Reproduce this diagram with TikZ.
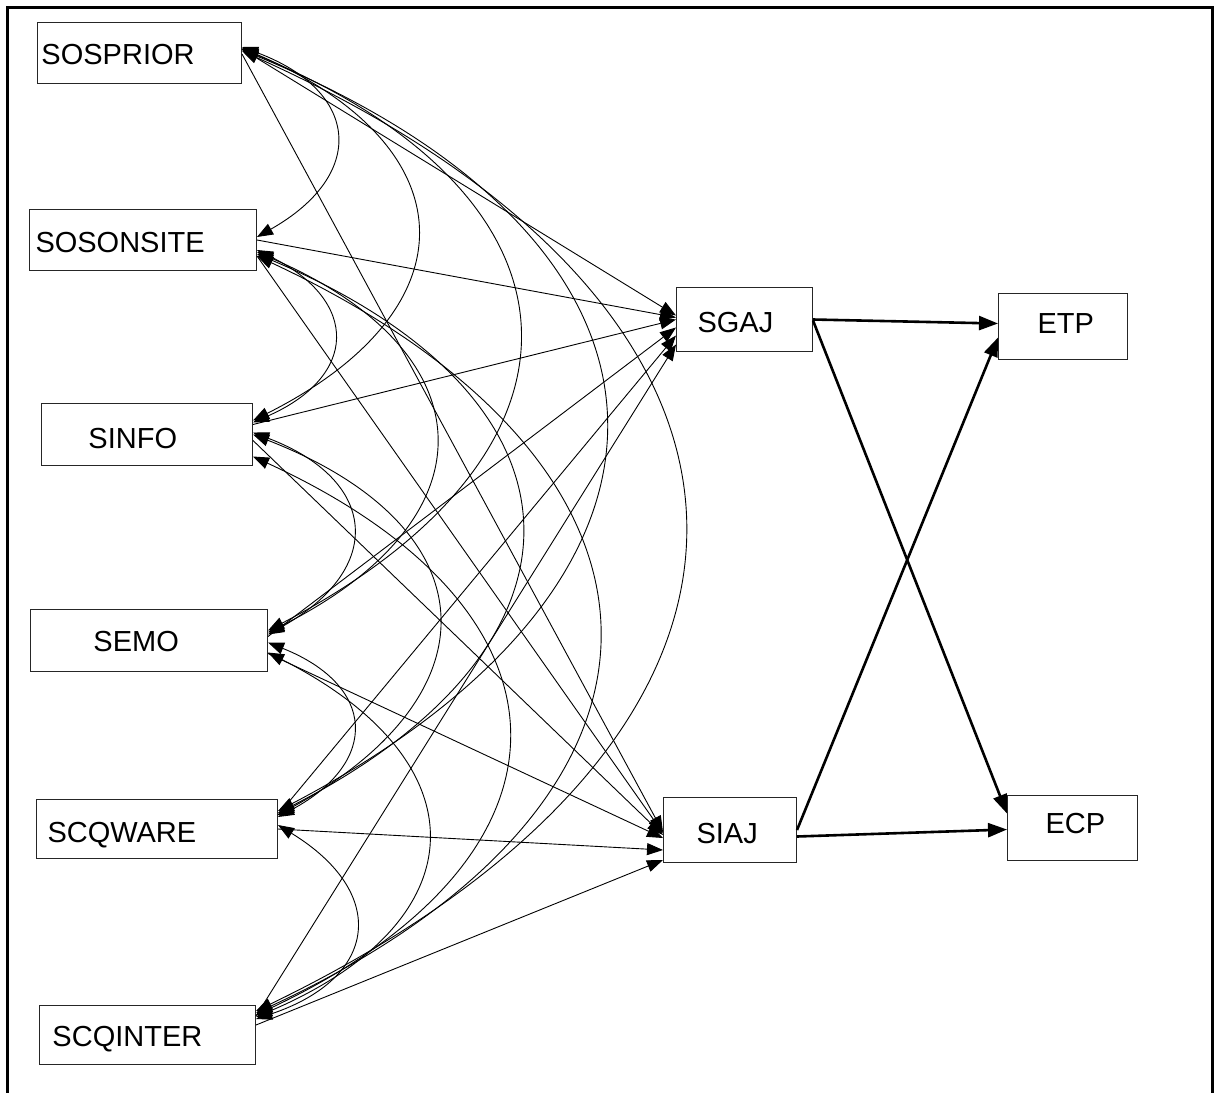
\documentclass[tikz,border=0pt]{standalone}
\usepackage{fontspec}
\setmainfont{Liberation Sans}
\usetikzlibrary{arrows.meta}
\begin{document}
\begin{tikzpicture}[x=1pt,y=-1pt,
  box/.style={draw=black!85, line width=1pt, inner sep=0pt, anchor=north west, align=left,
    text height=21pt, text depth=0pt, font=\fontsize{29}{34}\selectfont},
  pathline/.style={line width=0.9pt, -{Triangle[length=16pt,width=12pt]}},
  corr/.style={line width=0.9pt, {Triangle[length=16pt,width=12pt]}-{Triangle[length=16pt,width=12pt]},
    bend left=65, looseness=1.7},
  mainline/.style={line width=2.6pt, -{Triangle[length=19pt,width=14pt]}}]
\useasboundingbox (0,0) rectangle (1219,1093);
\draw[line width=3pt] (7.5,1100) -- (7.5,7.5) -- (1212,7.5) -- (1212,1100);

% nodes
\node[box, minimum width=204pt, minimum height=61pt, text width=204pt] (sosprior) at (37,22) {\hspace*{4pt}\raisebox{-0.5pt}{SOSPRIOR}};
\node[box, minimum width=227pt, minimum height=61pt, text width=227pt] (sosonsite) at (29,209) {\hspace*{6pt}\raisebox{-1.5pt}{SOSONSITE}};
\node[box, minimum width=211pt, minimum height=62pt, text width=211pt] (sinfo) at (41,403) {\hspace*{47pt}\raisebox{-3pt}{SINFO}};
\node[box, minimum width=237pt, minimum height=62pt, text width=237pt] (semo) at (30,609) {\hspace*{63pt}SEMO};
\node[box, minimum width=241pt, minimum height=59pt, text width=241pt] (scqware) at (36,799) {\hspace*{11pt}\raisebox{-2.5pt}{SCQWARE}};
\node[box, minimum width=216pt, minimum height=59pt, text width=216pt] (scqinter) at (39,1005) {\hspace*{13pt}\raisebox{-0.5pt}{SCQINTER}};
\node[box, minimum width=136pt, minimum height=64pt, text width=136pt] (sgaj) at (676,287) {\hspace*{21pt}\raisebox{-2pt}{SGAJ}};
\node[box, minimum width=133pt, minimum height=65pt, text width=133pt] (siaj) at (663,797) {\hspace*{33pt}\raisebox{-2.5pt}{SIAJ}};
\node[box, minimum width=129pt, minimum height=66pt, text width=129pt] (etp) at (998,293) {\hspace*{39pt}\raisebox{3.5pt}{ETP}};
\node[box, minimum width=130pt, minimum height=65pt, text width=130pt] (ecp) at (1007,795) {\hspace*{38pt}\raisebox{5.5pt}{ECP}};

% correlations
\draw[corr] ([yshift=6pt]sosprior.east) to ([yshift=3pt]sosonsite.east);
\draw[corr] ([yshift=5pt]sosprior.east) to ([yshift=14pt]sinfo.east);
\draw[corr] ([yshift=4pt]sosprior.east) to ([yshift=10pt]semo.east);
\draw[corr] ([yshift=3pt]sosprior.east) to ([yshift=18pt]scqware.east);
\draw[corr] ([yshift=2pt]sosprior.east) to ([yshift=24pt]scqinter.east);
\draw[corr] ([yshift=-10pt]sosonsite.east) to ([yshift=12pt]sinfo.east);
\draw[corr] ([yshift=-12pt]sosonsite.east) to ([yshift=8pt]semo.east);
\draw[corr] ([yshift=-14pt]sosonsite.east) to ([yshift=16pt]scqware.east);
\draw[corr] ([yshift=-16pt]sosonsite.east) to ([yshift=22pt]scqinter.east);
\draw[corr] ([yshift=2pt]sinfo.east) to ([yshift=6pt]semo.east);
\draw[corr] (sinfo.east) to ([yshift=14pt]scqware.east);
\draw[corr] ([yshift=-22pt]sinfo.east) to ([yshift=20pt]scqinter.east);
\draw[corr] ([yshift=-2pt]semo.east) to ([yshift=12pt]scqware.east);
\draw[corr] ([yshift=-12pt]semo.east) to ([yshift=18pt]scqinter.east);
\draw[corr] ([yshift=4pt]scqware.east) to ([yshift=16pt]scqinter.east);

% paths to SGAJ
\draw[pathline] ([yshift=4pt]sosprior.east) -- ([yshift=4pt]sgaj.west);
\draw[pathline] (sosonsite.east) -- ([yshift=2pt]sgaj.west);
\draw[pathline] ([yshift=10pt]sinfo.east) -- (sgaj.west);
\draw[pathline] ([yshift=4pt]semo.east) -- ([yshift=-8pt]sgaj.west);
\draw[pathline] ([yshift=14pt]scqware.east) -- ([yshift=-16pt]sgaj.west);
\draw[pathline] ([yshift=19pt]scqinter.east) -- ([yshift=-25pt]sgaj.west);
% paths to SIAJ
\draw[pathline] ([yshift=-1pt]sosprior.east) -- ([yshift=-2pt]siaj.west);
\draw[pathline] ([yshift=-16pt]sosonsite.east) -- ([yshift=-3pt]siaj.west);
\draw[pathline] ([yshift=-6pt]sinfo.east) -- ([yshift=-5pt]siaj.west);
\draw[pathline] ([yshift=-13pt]semo.east) -- ([yshift=-8pt]siaj.west);
\draw[pathline] (scqware.east) -- ([yshift=-20pt]siaj.west);
\draw[pathline] ([yshift=10pt]scqinter.east) -- ([yshift=-30pt]siaj.west);

% outcome paths
\draw[mainline] (sgaj.east) -- ([yshift=3pt]etp.west);
\draw[mainline] ([yshift=-1pt]sgaj.east) -- ([yshift=14.5pt]ecp.west);
\draw[mainline] (siaj.east) -- ([yshift=-11pt]etp.west);
\draw[mainline] ([yshift=-6.5pt]siaj.east) -- ([yshift=-1.5pt]ecp.west);
\end{tikzpicture}
\end{document}
